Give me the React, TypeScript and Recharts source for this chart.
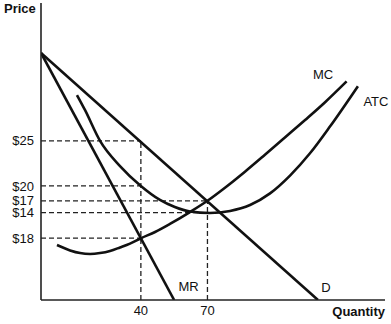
import React from 'react';
import { ComposedChart, Line, XAxis, YAxis, ReferenceDot } from 'recharts';

// Stylized economics chart: arbitrary quantity units on x (axis starts at -5), price units 0..100 on y
const qDomain: [number, number] = [-5, 150];
const pDomain: [number, number] = [0, 100];

const qTicks = [40, 70];
const qTickLabels = ['40', '70'];

const priceLevels = [53.6, 38.4, 33.4, 29.4, 20.8];
const priceLabels = ['$25', '$20', '$17', '$14', '$18'];
const guideEndQ = [40, 40, 70, 66, 40];

const demand = [
  { q: -5, p: 83.2 },
  { q: 119.8, p: 0 },
];

const marginalRevenue = [
  { q: -5, p: 83.2 },
  { q: 55, p: 0 },
];

const marginalCost = [
  { q: 2.2, p: 18.5 },
  { q: 8.1, p: 16.7 },
  { q: 12.6, p: 15.8 },
  { q: 17.1, p: 15.5 },
  { q: 21.6, p: 15.8 },
  { q: 26.1, p: 16.5 },
  { q: 30.6, p: 17.7 },
  { q: 35.1, p: 19.0 },
  { q: 40, p: 20.8 },
  { q: 46.4, p: 22.9 },
  { q: 53.1, p: 25.6 },
  { q: 62.1, p: 29.6 },
  { q: 70, p: 33.4 },
  { q: 77.9, p: 37.8 },
  { q: 86.9, p: 43.2 },
  { q: 95.9, p: 48.9 },
  { q: 104.9, p: 54.7 },
  { q: 114.0, p: 60.6 },
  { q: 123.0, p: 66.6 },
  { q: 132.7, p: 73.6 },
];

const averageTotalCost = [
  { q: 11.2, p: 69.0 },
  { q: 14.8, p: 64.0 },
  { q: 21.6, p: 53.6 },
  { q: 30.6, p: 45.1 },
  { q: 40, p: 38.4 },
  { q: 48.6, p: 33.7 },
  { q: 55.3, p: 31.3 },
  { q: 62.1, p: 29.8 },
  { q: 71.1, p: 29.3 },
  { q: 80.2, p: 30.0 },
  { q: 89.2, p: 32.0 },
  { q: 98.2, p: 35.9 },
  { q: 107.2, p: 41.9 },
  { q: 116.2, p: 49.4 },
  { q: 125.2, p: 58.4 },
  { q: 137.8, p: 72.0 },
];

const curveLabels = [
  { text: 'MC', q: 122.1, p: 75.8 },
  { text: 'ATC', q: 145.9, p: 67.0 },
  { text: 'MR', q: 61.5, p: 4.5 },
  { text: 'D', q: 123.4, p: 4.4 },
];

const FONT = '"Liberation Sans", Arial, Helvetica, sans-serif';
const INK = '#111';

const hGuides = priceLevels.map((level, i) => [
  { q: qDomain[0], p: level },
  { q: guideEndQ[i], p: level },
]);
const vGuides = [
  [{ q: qTicks[0], p: 0 }, { q: qTicks[0], p: priceLevels[0] }],
  [{ q: qTicks[1], p: 0 }, { q: qTicks[1], p: priceLevels[2] }],
];

export default function App() {
  return (
    <div style={{ position: 'absolute', left: 0, top: 0, width: 391, height: 324 }}>
      <ComposedChart
        width={391}
        height={324}
        margin={{ top: 3, right: 6, left: 0, bottom: 0 }}
      >
        <XAxis
          type="number"
          dataKey="q"
          domain={qDomain}
          ticks={qTicks}
          tickFormatter={(v: number) => qTickLabels[qTicks.indexOf(v)] ?? ''}
          allowDataOverflow
          height={24}
          tickLine={false}
          tickSize={0}
          tickMargin={6}
          axisLine={{ stroke: '#222', strokeWidth: 1.6 }}
          tick={{ fill: INK, fontSize: 13, fontFamily: FONT }}
        />
        <YAxis
          type="number"
          dataKey="p"
          domain={pDomain}
          ticks={priceLevels}
          interval={0}
          tickFormatter={(v: number) => priceLabels[priceLevels.indexOf(v)] ?? ''}
          allowDataOverflow
          width={41}
          tickLine={false}
          tickSize={0}
          tickMargin={7}
          axisLine={{ stroke: '#222', strokeWidth: 1.6 }}
          tick={{ fill: INK, fontSize: 13, fontFamily: FONT }}
        />
        {hGuides.map((d, i) => (
          <Line
            key={'h' + i}
            data={d}
            dataKey="p"
            type="linear"
            stroke="#222"
            strokeWidth={1.3}
            strokeDasharray="5 3"
            dot={false}
            activeDot={false}
            isAnimationActive={false}
          />
        ))}
        {vGuides.map((d, i) => (
          <Line
            key={'v' + i}
            data={d}
            dataKey="p"
            type="linear"
            stroke="#222"
            strokeWidth={1.3}
            strokeDasharray="5 3"
            dot={false}
            activeDot={false}
            isAnimationActive={false}
          />
        ))}
        <Line data={demand} dataKey="p" type="linear" stroke={INK} strokeWidth={2.6} dot={false} activeDot={false} isAnimationActive={false} />
        <Line data={marginalRevenue} dataKey="p" type="linear" stroke={INK} strokeWidth={2.6} dot={false} activeDot={false} isAnimationActive={false} />
        <Line data={marginalCost} dataKey="p" type="monotone" stroke={INK} strokeWidth={2.6} dot={false} activeDot={false} isAnimationActive={false} />
        <Line data={averageTotalCost} dataKey="p" type="monotone" stroke={INK} strokeWidth={2.6} dot={false} activeDot={false} isAnimationActive={false} />
        {curveLabels.map((l) => (
          <ReferenceDot
            key={l.text}
            x={l.q}
            y={l.p}
            r={0}
            fill="none"
            stroke="none"
            label={{ value: l.text, position: 'center', fill: INK, fontSize: 13, fontFamily: FONT }}
          />
        ))}
      </ComposedChart>
      <svg
        width={391}
        height={324}
        style={{ position: 'absolute', left: 0, top: 0, pointerEvents: 'none' }}
      >
        <text x={4} y={13} fontFamily={FONT} fontSize={13} fontWeight="bold" fill={INK}>
          Price
        </text>
        <text x={385} y={316} textAnchor="end" fontFamily={FONT} fontSize={13} fontWeight="bold" fill={INK}>
          Quantity
        </text>
      </svg>
    </div>
  );
}
